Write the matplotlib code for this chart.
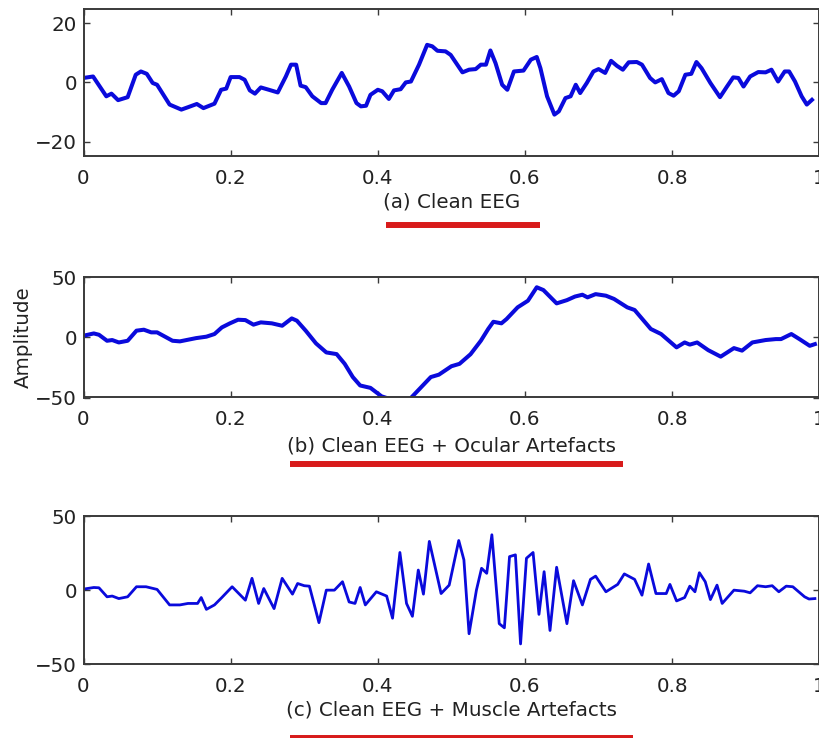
import matplotlib
matplotlib.use('Agg')
import matplotlib.pyplot as plt
from matplotlib.lines import Line2D

# Three EEG traces: clean, clean + ocular artefacts, clean + muscle artefacts.
# Values (time in s, amplitude in uV).

clean_t = [0.000, 0.013, 0.031, 0.038, 0.047, 0.060, 0.071, 0.078, 0.086, 0.094,
           0.100, 0.117, 0.133, 0.142, 0.154, 0.163, 0.178, 0.187, 0.194, 0.200,
           0.212, 0.219, 0.226, 0.233, 0.241, 0.252, 0.264, 0.275, 0.282, 0.289,
           0.295, 0.302, 0.311, 0.323, 0.329, 0.338, 0.351, 0.361, 0.371, 0.377,
           0.384, 0.390, 0.400, 0.406, 0.415, 0.422, 0.431, 0.438, 0.445, 0.456,
           0.467, 0.474, 0.481, 0.492, 0.499, 0.515, 0.524, 0.533, 0.540, 0.547,
           0.553, 0.560, 0.569, 0.576, 0.585, 0.598, 0.608, 0.616, 0.621, 0.630,
           0.640, 0.646, 0.655, 0.662, 0.669, 0.675, 0.684, 0.693, 0.700, 0.709,
           0.717, 0.725, 0.733, 0.741, 0.752, 0.759, 0.770, 0.777, 0.786, 0.795,
           0.802, 0.809, 0.818, 0.826, 0.833, 0.840, 0.852, 0.865, 0.874, 0.883,
           0.890, 0.897, 0.906, 0.917, 0.927, 0.935, 0.944, 0.953, 0.959, 0.967,
           0.976, 0.983, 0.990]
clean_amp = [1.5, 2.0, -4.7, -3.8, -6.0, -5.0, 2.6, 3.7, 2.9, -0.2,
             -0.8, -7.5, -9.2, -8.4, -7.3, -8.7, -7.2, -2.5, -2.1, 1.8,
             1.8, 0.9, -2.7, -3.8, -1.7, -2.5, -3.4, 2.0, 6.0, 6.0,
             -1.1, -1.6, -4.7, -7.0, -7.0, -2.5, 3.2, -1.4, -7.0, -8.1,
             -7.9, -4.2, -2.5, -3.0, -5.6, -2.7, -2.3, 0.0, 0.3, 6.0,
             12.7, 12.2, 10.7, 10.5, 9.3, 3.4, 4.3, 4.5, 6.0, 6.0,
             10.8, 6.5, -0.8, -2.5, 3.7, 4.0, 7.7, 8.6, 4.8, -4.7,
             -10.9, -9.8, -5.3, -4.7, -0.8, -3.6, -0.2, 3.7, 4.5, 3.2,
             7.3, 5.6, 4.3, 6.8, 6.9, 6.0, 1.5, 0.0, 1.1, -3.6,
             -4.5, -3.0, 2.6, 2.9, 6.9, 4.8, -0.2, -5.0, -1.6, 1.7,
             1.5, -1.4, 2.0, 3.5, 3.4, 4.3, 0.3, 3.7, 3.7, 0.3,
             -4.7, -7.5, -5.9]

ocular_t = [0.000, 0.014, 0.021, 0.032, 0.039, 0.048, 0.060, 0.072, 0.082, 0.092,
            0.100, 0.121, 0.131, 0.153, 0.167, 0.178, 0.188, 0.199, 0.210, 0.220,
            0.231, 0.241, 0.256, 0.270, 0.283, 0.290, 0.302, 0.316, 0.330, 0.344,
            0.355, 0.366, 0.376, 0.390, 0.405, 0.415, 0.444, 0.458, 0.472, 0.483,
            0.500, 0.511, 0.526, 0.540, 0.550, 0.557, 0.568, 0.575, 0.590, 0.604,
            0.616, 0.625, 0.643, 0.657, 0.668, 0.678, 0.685, 0.696, 0.710, 0.721,
            0.739, 0.749, 0.771, 0.785, 0.806, 0.817, 0.824, 0.834, 0.849, 0.866,
            0.884, 0.895, 0.909, 0.927, 0.941, 0.948, 0.962, 0.973, 0.987, 0.994]
ocular_amp = [1.4, 3.3, 2.2, -2.8, -2.2, -4.2, -2.8, 5.6, 6.4, 4.2,
              4.2, -2.8, -3.3, -0.6, 0.6, 2.8, 8.3, 11.7, 14.7, 14.4,
              10.6, 12.5, 11.7, 9.7, 15.8, 13.9, 5.6, -5.0, -12.5, -13.9,
              -22.0, -33.0, -40.0, -42.0, -49.0, -51.0, -51.0, -42.0, -33.0, -31.0,
              -24.0, -22.0, -14.0, -2.8, 7.0, 13.0, 11.7, 15.3, 25.0, 30.5,
              41.7, 39.4, 28.3, 31.0, 34.0, 35.5, 33.3, 36.0, 34.7, 32.0,
              25.0, 22.8, 7.0, 2.8, -8.3, -4.2, -6.0, -4.2, -10.6, -16.0,
              -8.9, -11.0, -4.2, -2.2, -1.4, -1.4, 2.8, -1.4, -7.0, -5.6]

muscle_t = [0.000, 0.014, 0.021, 0.032, 0.039, 0.048, 0.060, 0.072, 0.085, 0.100,
            0.117, 0.131, 0.142, 0.155, 0.160, 0.167, 0.178, 0.188, 0.202, 0.220,
            0.229, 0.238, 0.245, 0.259, 0.270, 0.284, 0.291, 0.300, 0.307, 0.320,
            0.330, 0.341, 0.352, 0.361, 0.369, 0.376, 0.383, 0.398, 0.412, 0.420,
            0.430, 0.439, 0.447, 0.455, 0.462, 0.470, 0.486, 0.497, 0.510, 0.517,
            0.524, 0.534, 0.541, 0.548, 0.555, 0.565, 0.572, 0.579, 0.587, 0.594,
            0.602, 0.611, 0.619, 0.626, 0.634, 0.643, 0.657, 0.666, 0.678, 0.689,
            0.696, 0.710, 0.726, 0.735, 0.749, 0.759, 0.768, 0.778, 0.792, 0.797,
            0.806, 0.817, 0.824, 0.831, 0.837, 0.845, 0.852, 0.861, 0.868, 0.884,
            0.898, 0.906, 0.916, 0.927, 0.936, 0.945, 0.955, 0.964, 0.980, 0.986,
            0.994]
muscle_amp = [0.7, 1.8, 1.6, -4.5, -4.0, -5.7, -4.5, 2.3, 2.3, 0.5,
              -10.0, -10.0, -9.0, -9.0, -5.0, -13.0, -10.0, -5.0, 2.3, -6.8,
              8.0, -9.0, 1.1, -12.5, 8.0, -2.7, 4.5, 3.0, 2.7, -22.0,
              0.0, 0.0, 5.7, -8.0, -9.0, 1.8, -10.0, -1.1, -4.0, -19.0,
              25.5, -9.0, -17.7, 13.6, -2.7, 33.0, -2.3, 3.4, 33.6, 20.5,
              -29.5, 0.0, 14.8, 11.4, 37.5, -22.7, -25.5, 22.7, 23.9, -36.4,
              21.6, 25.5, -16.4, 12.5, -27.3, 15.5, -22.7, 6.4, -10.0, 7.3,
              9.5, -1.1, 3.9, 11.0, 7.3, -3.4, 17.7, -2.3, -2.3, 3.9,
              -7.3, -5.0, 2.7, -1.1, 11.8, 5.7, -6.4, 3.4, -9.0, 0.0,
              -0.7, -1.8, 3.0, 2.3, 3.0, -1.1, 2.7, 2.3, -4.5, -6.0,
              -5.7]

captions = ['(a) Clean EEG',
            '(b) Clean EEG + Ocular Artefacts',
            '(c) Clean EEG + Muscle Artefacts']
x_ticks = [0, 0.2, 0.4, 0.6, 0.8, 1]
x_tick_labels = ['0', '0.2', '0.4', '0.6', '0.8', '1']
y_ticks = [[-20, 0, 20], [-50, 0, 50], [-50, 0, 50]]
y_limits = [(-25, 25), (-50, 50), (-50, 50)]

# layout in pixels of the 819x738 picture
W, H = 819, 738
AX_LEFT, AX_RIGHT = 83.5, 819.3
AX_ROWS = [(8.5, 156.3), (277.3, 397.5), (516.3, 664.0)]   # (top, bottom)
CAPTION_DROP = [46, 49, 46]                                # caption centre below axes
RED_BARS = [(386, 540, 225), (290, 623, 464), (290, 633, 737.5)]  # x0, x1, y
LINE_WIDTHS = [2.9, 2.9, 2.0]                              # muscle trace is thinner

LINE_BLUE = '#0a0adc'
BAR_RED = '#d81b1b'
SPINE = '#3a3a3a'
TEXT = '#222222'
FS = 14.3


def draw() -> None:
    fig = plt.figure(figsize=(W / 100, H / 100), dpi=100)
    plt.rcParams['font.family'] = ['DejaVu Sans']

    series = [(clean_t, clean_amp), (ocular_t, ocular_amp), (muscle_t, muscle_amp)]

    for i, (t, amp) in enumerate(series):
        top, bottom = AX_ROWS[i]
        ax = fig.add_axes([AX_LEFT / W, 1 - bottom / H,
                           (AX_RIGHT - AX_LEFT) / W, (bottom - top) / H])

        ax.plot(t, amp, color=LINE_BLUE, linewidth=LINE_WIDTHS[i], solid_joinstyle='round')

        ax.set_xlim(0, 1)
        ax.set_ylim(*y_limits[i])
        ax.set_xticks(x_ticks)
        ax.set_xticklabels(x_tick_labels)
        ax.set_yticks(y_ticks[i])

        # matlab style: inward ticks on every side
        ax.tick_params(direction='in', length=4.3, width=1.0, color=SPINE,
                       top=True, right=True, labelsize=FS, labelcolor=TEXT)
        ax.tick_params(axis='x', pad=9.0)
        ax.tick_params(axis='y', pad=4.6)
        for s in ax.spines.values():
            s.set_color(SPINE)
            s.set_linewidth(1.4)

        # caption under the panel
        ax.annotate(captions[i], xy=(0.5, 0), xycoords='axes fraction',
                    xytext=(0, -CAPTION_DROP[i] * 0.72), textcoords='offset points',
                    ha='center', va='center', fontsize=FS, color=TEXT)

        if i == 1:
            ax.set_ylabel('Amplitude', fontsize=FS, color=TEXT)
            ax.yaxis.set_label_coords((33 - AX_LEFT) / (AX_RIGHT - AX_LEFT), 0.5)

    # red underlines
    for x0, x1, y in RED_BARS:
        fig.add_artist(Line2D([x0 / W, x1 / W], [1 - y / H, 1 - y / H],
                              transform=fig.transFigure, color=BAR_RED,
                              linewidth=4.3, solid_capstyle='butt'))

    fig.savefig('out.png', dpi=100, facecolor='white')


if __name__ == '__main__':
    draw()
